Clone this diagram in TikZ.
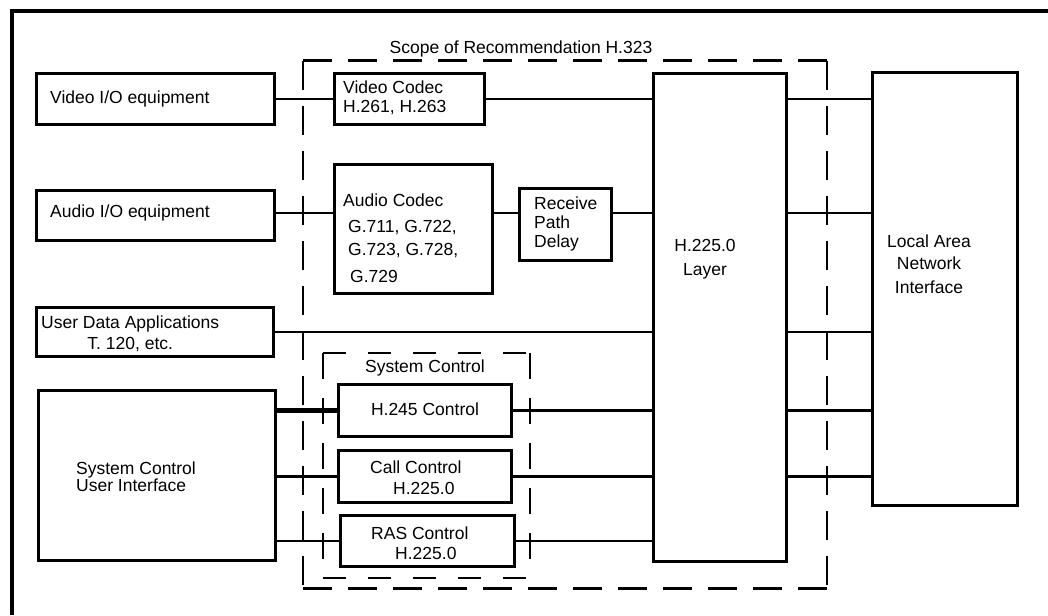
\documentclass[tikz,border=0pt]{standalone}
\usepackage{fontspec}
\setmainfont{Liberation Sans}
\begin{document}
\begin{tikzpicture}[x=1pt,y=-1pt,
  blk/.style={draw, line width=3.5pt, inner sep=0pt, outer sep=0pt, anchor=north west},
  txt/.style={inner sep=0pt, font=\fontsize{17.5}{19}\selectfont, align=left},
  conn/.style={line width=2.3pt},
  thickconn/.style={line width=4.5pt},
  frame/.style={line width=4pt},
  dsh/.style={line width=3pt, dash pattern=on 29pt off 16pt},
  dsv/.style={line width=1.8pt, dash pattern=on 29pt off 16pt},
  sdsh/.style={line width=2.2pt, dash pattern=on 23pt off 22pt},
  sdsv/.style={line width=1.8pt, dash pattern=on 26pt off 19pt}]
\useasboundingbox (0,0) rectangle (1048,615);

% outer frame
\coordinate (fb) at (12,615);
\coordinate (fc) at (12,11);
\coordinate (fr) at (1048,11);
\draw[frame] (fb) -- (fc) -- (fr);

% scope dashed box
\coordinate (s1) at (303,61);
\coordinate (s2) at (827,588);
\draw[dsh] (s1) -- (s1 -| s2);
\draw[dsh] (s1 |- s2) -- (s2);
\draw[dsv] (s1) -- (s1 |- s2);
\draw[dsv] (s1 -| s2) -- (s2);
\node[txt] (scope) at (521,49) {Scope of Recommendation H.323};

% system control dashed box
\coordinate (c1) at (323,353);
\coordinate (c2) at (530,578);
\draw[sdsh] (c1) -- (c1 -| c2);
\draw[sdsh] (c1 |- c2) -- (c2);
\draw[sdsv] (c1) -- (c1 |- c2);
\draw[sdsv] (c1 -| c2) -- (c2);
\node[txt] (sctl) at (425,368) {System Control};

% boxes
\node[blk, minimum width=238, minimum height=51] (vio) at (36.5,73.5) {};
\node[blk, minimum width=238, minimum height=50] (aio) at (36.5,190.5) {};
\node[blk, minimum width=237, minimum height=49] (uda) at (36.5,307.5) {};
\node[blk, minimum width=237, minimum height=170] (scui) at (38.5,390.5) {};
\node[blk, minimum width=150, minimum height=51] (vcod) at (334.5,73.5) {};
\node[blk, minimum width=158, minimum height=129] (acod) at (334.5,164.5) {};
\node[blk, minimum width=92, minimum height=72] (rpd) at (519.5,188.5) {};
\node[blk, minimum width=133, minimum height=488] (h225) at (653.5,73.5) {};
\node[blk, minimum width=145, minimum height=433] (lan) at (872.5,72.5) {};
\node[blk, minimum width=173, minimum height=52] (h245) at (338.5,384.5) {};
\node[blk, minimum width=173, minimum height=52] (call) at (338.5,450.5) {};
\node[blk, minimum width=174, minimum height=51] (ras) at (340.5,515.5) {};

% texts
\node[txt, anchor=west] (tvio) at (50,99) {Video I/O equipment};
\node[txt, anchor=west] (taio) at (50,213) {Audio I/O equipment};
\node[txt, anchor=west, align=center] (tuda) at (41,334) {User Data Applications\\[2pt]T. 120, etc.};
\node[txt, anchor=west] (tscui) at (76,477) {System Control\\[-2pt]User Interface};
\node[txt, anchor=west] (tvcod) at (343,97.5) {Video Codec\\H.261, H.263};
\node[txt, anchor=west] (tacod) at (343,238) {Audio Codec\\[7pt]\hspace*{5pt}G.711, G.722,\\[4pt]\hspace*{5pt}G.723, G.728,\\[8pt]\hspace*{7pt}G.729};
\node[txt, anchor=west] (trpd) at (534,224) {Receive\\Path\\Delay};
\node[txt, align=center] (th225) at (705,259) {H.225.0\\[5pt]Layer};
\node[txt, align=center] (tlan) at (929,264) {Local Area\\[3pt]Network\\[5pt]Interface};
\node[txt] (th245) at (425,409) {H.245 Control};
\node[txt, anchor=west] (tcall) at (370,477.5) {Call Control\\[2pt]\hspace*{23pt}H.225.0};
\node[txt, anchor=west] (tras) at (371,543) {RAS Control\\[1pt]\hspace*{24pt}H.225.0};

% connectors
\coordinate (ya) at (0,213);
\draw[conn] (vio.east) -- (vcod.west);
\draw[conn] (vcod.east) -- (vcod.east -| h225.west);
\draw[conn] (vcod.east -| h225.east) -- (vcod.east -| lan.west);
\draw[conn] (aio.east |- ya) -- (acod.west |- ya);
\draw[conn] (acod.east |- ya) -- (rpd.west |- ya);
\draw[conn] (rpd.east |- ya) -- (h225.west |- ya);
\draw[conn] (h225.east |- ya) -- (lan.west |- ya);
\draw[conn] (uda.east) -- (uda.east -| h225.west);
\draw[conn] (uda.east -| h225.east) -- (uda.east -| lan.west);
\draw[thickconn] (scui.east |- h245.west) -- (h245.west);
\draw[conn] (h245.east) -- (h245.east -| h225.west);
\draw[conn] (h245.east -| h225.east) -- (h245.east -| lan.west);
\draw[conn] (scui.east |- call.west) -- (call.west);
\draw[conn] (call.east) -- (call.east -| h225.west);
\draw[conn] (call.east -| h225.east) -- (call.east -| lan.west);
\draw[conn] (scui.east |- ras.west) -- (ras.west);
\draw[conn] (ras.east) -- (ras.east -| h225.west);
\end{tikzpicture}
\end{document}
